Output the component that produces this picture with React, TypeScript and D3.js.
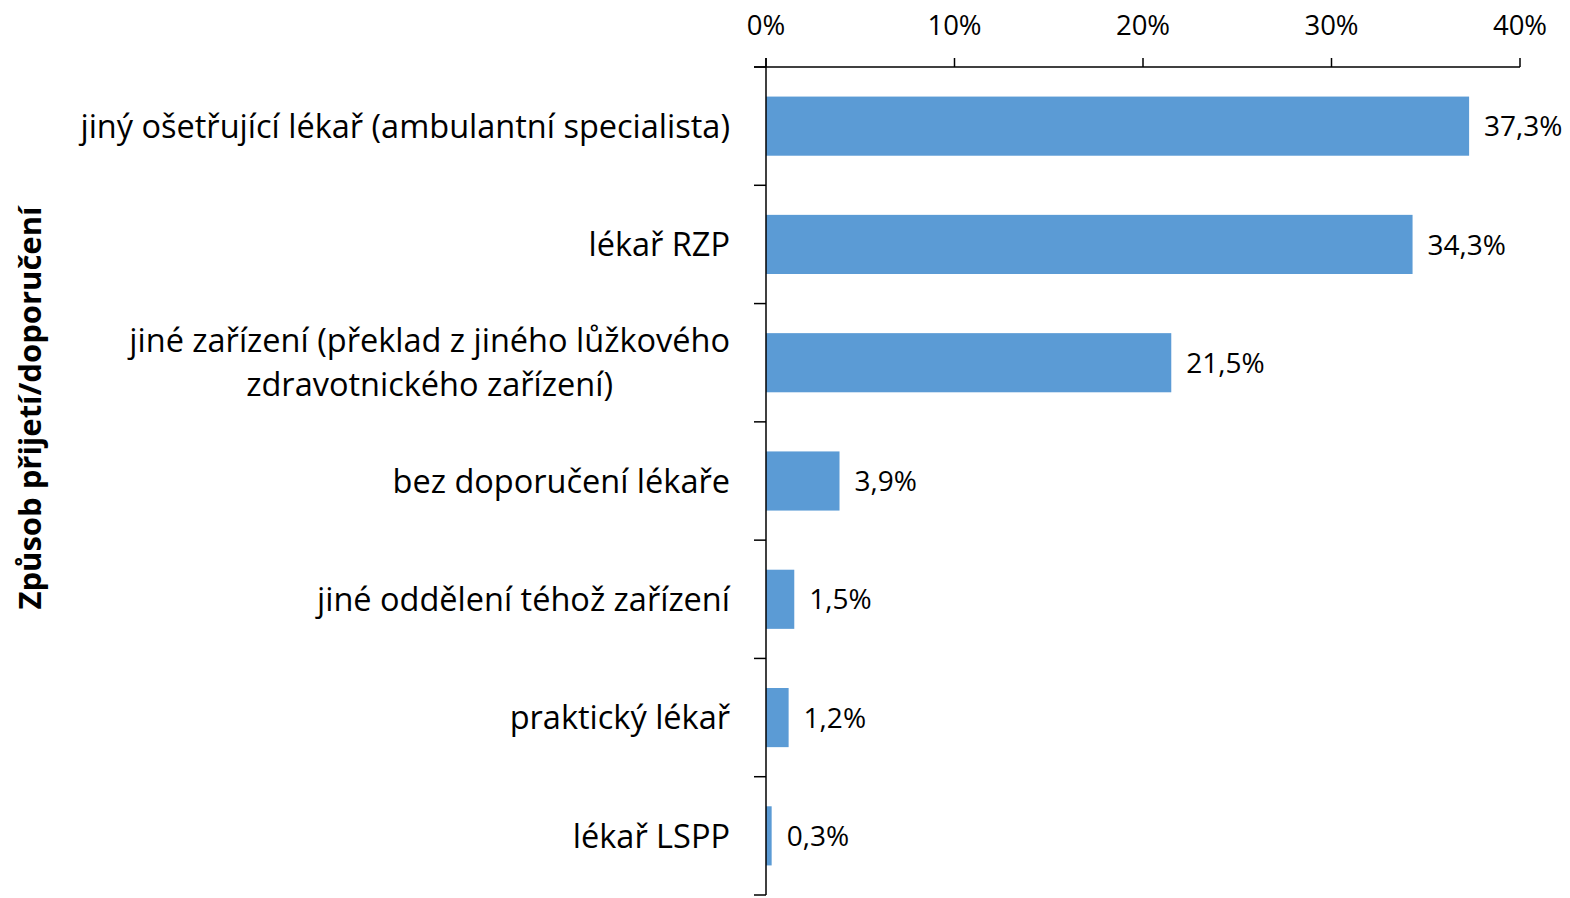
import React, { useEffect, useRef } from "react";
import * as d3 from "d3";

const categories: string[][] = [
  ["jiný ošetřující lékař (ambulantní specialista)"],
  ["lékař RZP"],
  ["jiné zařízení (překlad z jiného lůžkového", "zdravotnického zařízení)"],
  ["bez doporučení lékaře"],
  ["jiné oddělení téhož zařízení"],
  ["praktický lékař"],
  ["lékař LSPP"],
];
const values: number[] = [37.3, 34.3, 21.5, 3.9, 1.5, 1.2, 0.3];
const tickValues: number[] = [0, 10, 20, 30, 40];
const axisTitle = "Způsob přijetí/doporučení";

const W = 1570;
const H = 898;
const FONT = "'Open Sans', Lato, sans-serif";

export default function App() {
  const ref = useRef<SVGSVGElement | null>(null);
  useEffect(() => {
    const svg = d3.select(ref.current);
    svg.selectAll("*").remove();
    const x0 = 766, x1 = 1520, yTop = 67, yBot = 895;
    const x = d3.scaleLinear().domain([0, 40]).range([x0, x1]);
    const idx = categories.map((_, i) => String(i));
    const y = d3.scaleBand().domain(idx).range([yTop, yBot]).paddingInner(0.5).paddingOuter(0.25);
    const step = (yBot - yTop) / categories.length;

    const g = svg.append("g");
    g.selectAll("rect.bar")
      .data(values)
      .join("rect")
      .attr("x", x(0))
      .attr("y", (_, i) => y(String(i))!)
      .attr("width", (d) => x(d) - x(0))
      .attr("height", y.bandwidth())
      .attr("fill", "#5B9BD5");

    g.selectAll("text.val")
      .data(values)
      .join("text")
      .attr("x", (d) => x(d) + 15)
      .attr("y", (_, i) => y(String(i))! + y.bandwidth() / 2)
      .attr("dy", "0.36em")
      .attr("font-family", FONT)
      .attr("font-size", 28)
      .attr("fill", "#000")
      .text((d) => d.toFixed(1).replace(".", ",") + "%");

    g.append("line").attr("x1", 754).attr("x2", x1).attr("y1", yTop).attr("y2", yTop).attr("stroke", "#000").attr("stroke-width", 1.5);
    g.selectAll("line.xt")
      .data(tickValues)
      .join("line")
      .attr("x1", (d) => x(d)).attr("x2", (d) => x(d))
      .attr("y1", yTop - 9).attr("y2", yTop)
      .attr("stroke", "#000").attr("stroke-width", 1.5);
    g.selectAll("text.xt")
      .data(tickValues)
      .join("text")
      .attr("x", (d) => x(d))
      .attr("y", 35)
      .attr("text-anchor", "middle")
      .attr("font-family", FONT)
      .attr("font-size", 27.5)
      .attr("fill", "#000")
      .text((d) => d + "%");

    g.append("line").attr("x1", x0).attr("x2", x0).attr("y1", yTop - 9).attr("y2", yBot).attr("stroke", "#000").attr("stroke-width", 1.5);
    g.selectAll("line.yt")
      .data(d3.range(categories.length + 1))
      .join("line")
      .attr("x1", 754).attr("x2", x0)
      .attr("y1", (i) => yTop + i * step).attr("y2", (i) => yTop + i * step)
      .attr("stroke", "#000").attr("stroke-width", 1.5);

    const lineH = 44;
    categories.forEach((lines, i) => {
      const cy = y(String(i))! + y.bandwidth() / 2;
      const t = g.append("text")
        .attr("font-family", FONT)
        .attr("font-size", 32.5)
        .attr("fill", "#000");
      lines.forEach((ln, k) => {
        t.append("tspan")
          .attr("x", 0)
          .attr("y", cy + (k - (lines.length - 1) / 2) * lineH)
          .attr("dy", "0.36em")
          .attr("text-anchor", "middle")
          .text(ln);
      });
      const widths: number[] = [];
      t.selectAll<SVGTSpanElement, unknown>("tspan").each(function () {
        widths.push(this.getComputedTextLength());
      });
      const maxW = Math.max(...widths);
      const cx = 730 - maxW / 2;
      t.selectAll("tspan").attr("x", cx);
    });

    g.append("text")
      .attr("transform", `translate(41,408) rotate(-90)`)
      .attr("text-anchor", "middle")
      .attr("font-family", FONT)
      .attr("font-size", 31)
      .attr("font-weight", "bold")
      .attr("fill", "#000")
      .text(axisTitle);
  }, []);
  return (
    <svg ref={ref} width={W} height={H} style={{ position: "absolute", left: 0, top: 0, background: "#fff" }} />
  );
}
